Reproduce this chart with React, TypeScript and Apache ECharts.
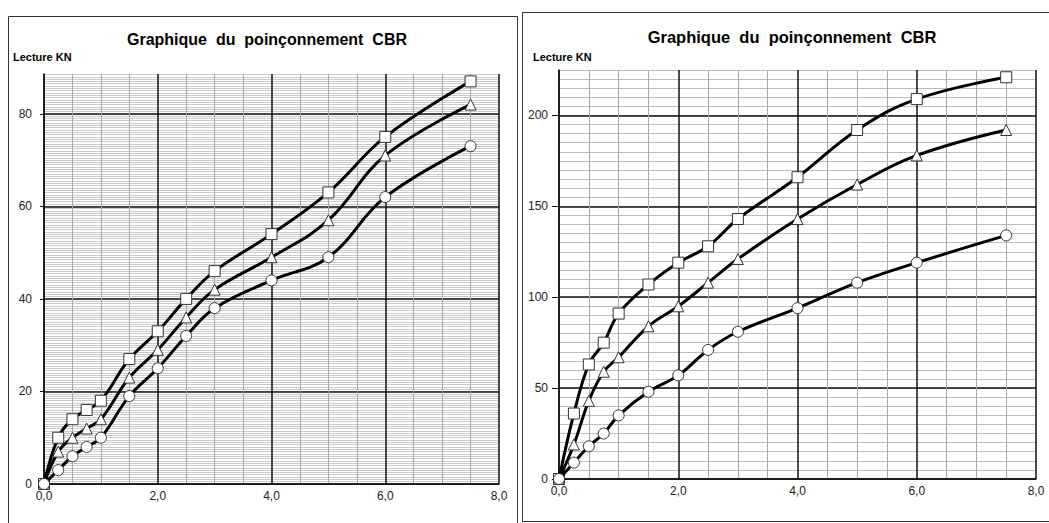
import React, { useEffect, useRef } from "react";
import * as echarts from "echarts";

const penetration = [0, 0.25, 0.5, 0.75, 1, 1.5, 2, 2.5, 3, 4, 5, 6, 7.5];

const leftSquare = [0, 10, 14, 16, 18, 27, 33, 40, 46, 54, 63, 75, 87];
const leftTriangle = [0, 7, 10, 12, 14, 23, 29, 36, 42, 49, 57, 71, 82];
const leftCircle = [0, 3, 6, 8, 10, 19, 25, 32, 38, 44, 49, 62, 73];

const rightSquare = [0, 36, 63, 75, 91, 107, 119, 128, 143, 166, 192, 209, 221];
const rightTriangle = [0, 19, 43, 59, 67, 84, 95, 108, 121, 143, 162, 178, 192];
const rightCircle = [0, 9, 18, 25, 35, 48, 57, 71, 81, 94, 108, 119, 134];

const leftYTicks = [0, 20, 40, 60, 80];
const rightYTicks = [0, 50, 100, 150, 200];

const titleText = "Graphique  du  poinçonnement  CBR";
const yName = "Lecture KN";

const FONT = "Liberation Sans, Arial, sans-serif";

function pairs(ys: number[]) {
  return penetration.map((x, i) => [x, ys[i]]);
}

export default function App() {
  const ref = useRef<HTMLDivElement>(null);
  useEffect(() => {
    if (!ref.current) return;
    const chart = echarts.init(ref.current, undefined, { renderer: "svg" });

    const xAxisFor = (gi: number) => ({
      type: "value",
      gridIndex: gi,
      min: 0,
      max: 8,
      interval: 2,
      axisLine: { show: true, lineStyle: { color: "#111", width: 1.5 } },
      axisTick: { show: false },
      axisLabel: {
        color: "#222",
        fontSize: 12,
        fontFamily: FONT,
        margin: 6,
        formatter: (v: number) => v.toFixed(1).replace(".", ","),
      },
      splitLine: { show: true, lineStyle: { color: "#111", width: 1.5 } },
      minorTick: { show: false, splitNumber: 4 },
      minorSplitLine: { show: true, lineStyle: { color: "#a8a8a8", width: 1 } },
    });

    const minorY = (gi: number, max: number, step: number, color: string) => ({
      type: "value",
      gridIndex: gi,
      min: 0,
      max,
      interval: step,
      axisLine: { show: false },
      axisTick: { show: false },
      axisLabel: { show: false },
      splitLine: { show: true, lineStyle: { color, width: 1 } },
    });

    const majorY = (gi: number, max: number, ticks: number[], tickLen: number, margin: number) => ({
      type: "value",
      gridIndex: gi,
      position: "left",
      min: 0,
      max,
      interval: ticks[1] - ticks[0],
      axisLine: { show: true, onZero: false, lineStyle: { color: "#111", width: 1.5 } },
      axisTick: { show: true, length: tickLen, customValues: ticks, lineStyle: { color: "#111" } },
      axisLabel: {
        color: "#222",
        fontSize: 12,
        fontFamily: FONT,
        margin,
        customValues: ticks,
      },
      splitLine: { show: true, lineStyle: { color: "#111", width: 1.5 } },
    });

    const mkSeries = (gi: number, ys: number[], symbol: string, z: number) => ({
      type: "line",
      xAxisIndex: gi,
      yAxisIndex: gi * 2 + 1,
      data: pairs(ys),
      smooth: 0.4,
      symbol,
      symbolSize: 11,
      showAllSymbol: true,
      z,
      lineStyle: { color: "#000", width: 3 },
      itemStyle: { color: "#fff", borderColor: "#333", borderWidth: 1 },
      emphasis: { disabled: true },
    });

    chart.setOption({
      animation: false,
      backgroundColor: "#fff",
      grid: [
        { left: 44, top: 74, width: 455, height: 410, containLabel: false },
        { left: 559, top: 70, width: 477, height: 409, containLabel: false },
      ],
      xAxis: [xAxisFor(0), xAxisFor(1)],
      yAxis: [
        minorY(0, 88.6, 0.5, "#cacaca"),
        majorY(0, 88.6, leftYTicks, 4, 12),
        minorY(1, 225, 5, "#bdbdbd"),
        majorY(1, 225, rightYTicks, 7, 11),
      ],
      series: [
        mkSeries(0, leftSquare, "rect", 3),
        mkSeries(0, leftTriangle, "triangle", 4),
        mkSeries(0, leftCircle, "circle", 5),
        mkSeries(1, rightSquare, "rect", 3),
        mkSeries(1, rightTriangle, "triangle", 4),
        mkSeries(1, rightCircle, "circle", 5),
      ],
      graphic: [
        {
          type: "rect",
          shape: { x: 8.5, y: 16.5, width: 509, height: 530 },
          style: { fill: "none", stroke: "#333", lineWidth: 1 },
          silent: true,
          z: 0,
        },
        {
          type: "rect",
          shape: { x: 522.5, y: 12.5, width: 560, height: 509 },
          style: { fill: "none", stroke: "#333", lineWidth: 1 },
          silent: true,
          z: 0,
        },
        {
          type: "text",
          x: 267,
          y: 39,
          style: {
            text: titleText,
            font: "bold 16px " + FONT,
            fill: "#000",
            textAlign: "center",
            textVerticalAlign: "middle",
          },
        },
        {
          type: "text",
          x: 792,
          y: 37,
          style: {
            text: titleText,
            font: "bold 16.5px " + FONT,
            fill: "#000",
            textAlign: "center",
            textVerticalAlign: "middle",
          },
        },
        {
          type: "text",
          x: 13,
          y: 57,
          style: {
            text: yName,
            font: "bold 11px " + FONT,
            fill: "#000",
            textAlign: "left",
            textVerticalAlign: "middle",
          },
        },
        {
          type: "text",
          x: 533,
          y: 57,
          style: {
            text: yName,
            font: "bold 11px " + FONT,
            fill: "#000",
            textAlign: "left",
            textVerticalAlign: "middle",
          },
        },
      ],
    });

    return () => {
      chart.dispose();
    };
  }, []);

  return (
    <div
      ref={ref}
      style={{ position: "absolute", left: 0, top: 0, width: 1049, height: 523, background: "#fff" }}
    />
  );
}
